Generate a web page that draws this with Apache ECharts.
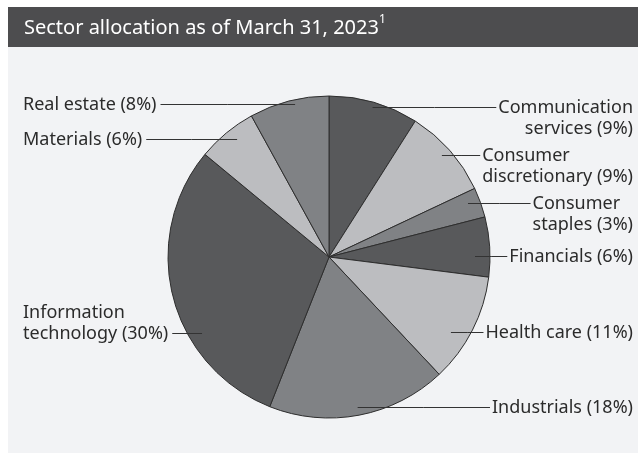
<!DOCTYPE html>
<html>
<head>
<meta charset="utf-8">
<script src="https://cdn.jsdelivr.net/npm/echarts@6/dist/echarts.min.js"></script>
<style>
  html, body { margin: 0; padding: 0; background: #fff; }
  #chart { width: 638px; height: 454px; }
</style>
</head>
<body>
<div id="chart"></div>
<script>
// sectors clockwise from 12 o'clock
var sectors = ['Communication\nservices', 'Consumer\ndiscretionary', 'Consumer\nstaples', 'Financials',
    'Health care', 'Industrials', 'Information\ntechnology', 'Materials', 'Real estate'];
var weights = [9, 9, 3, 6, 11, 18, 30, 6, 8];
var shades = ['#58595b', '#bcbdc0', '#808285', '#58595b', '#bcbdc0', '#808285', '#58595b', '#bcbdc0', '#808285'];

var cx = 329, cy = 257, R = 161;
var lh = 21;
// where each leader line starts (fraction of radius, angle nudge) and which side the text sits
var spots = [
    {side: 'right', frac: 0.97, turn: 0},
    {side: 'right', frac: 0.945, turn: -0.7, flush: true},
    {side: 'right', frac: 0.926, turn: -1.4, flush: true},
    {side: 'right', frac: 0.907, turn: 3.2},
    {side: 'right', frac: 0.889, turn: 4.6},
    {side: 'right', frac: 0.949, turn: 0},
    {side: 'left', frac: 0.919, turn: -16.5, row: 1},
    {side: 'left', frac: 0.929, turn: 1.7},
    {side: 'left', frac: 0.973, turn: 1.9}
];

var total = weights.reduce(function (a, b) { return a + b; }, 0);
var midAngle = [];
var acc = 0;
weights.forEach(function (w) {
    midAngle.push((acc + w / 2) / total * 360);
    acc += w;
});

var pieData = sectors.map(function (name, i) {
    return { name: name, value: weights[i] };
});

var myChart = echarts.init(document.getElementById('chart'));

var option = {
    backgroundColor: '#ffffff',
    textStyle: { fontFamily: 'Noto Sans' },
    graphic: [
        { type: 'rect', shape: { x: 8, y: 47, width: 630, height: 406 }, style: { fill: '#f2f3f5' }, silent: true },
        { type: 'rect', shape: { x: 8, y: 7, width: 630, height: 40 }, style: { fill: '#4d4d4f' }, silent: true }
    ],
    title: {
        text: 'Sector allocation as of March 31, 2023{sup|1}',
        left: 24,
        top: 14,
        padding: 0,
        textStyle: {
            color: '#ffffff',
            fontFamily: 'Noto Sans',
            fontWeight: 'normal',
            fontSize: 20,
            lineHeight: 28,
            rich: {
                sup: { fontSize: 12, lineHeight: 16, verticalAlign: 'top', color: '#ffffff', fontFamily: 'Noto Sans' }
            }
        }
    },
    series: [
        {
            // the slices
            type: 'pie',
            z: 2,
            center: [cx, cy],
            radius: R,
            startAngle: 90,
            clockwise: true,
            animation: false,
            silent: true,
            color: shades,
            itemStyle: { borderColor: '#2e2e2e', borderWidth: 1 },
            label: { show: false },
            labelLine: { show: false },
            data: pieData
        },
        {
            // see-through copy that carries the labels and leader lines on top
            type: 'pie',
            z: 5,
            center: [cx, cy],
            radius: R,
            startAngle: 90,
            clockwise: true,
            avoidLabelOverlap: false,
            animation: false,
            silent: true,
            itemStyle: { color: 'rgba(0,0,0,0)', borderWidth: 0 },
            label: {
                show: true,
                position: 'outside',
                formatter: '{b} ({c}%)',
                color: '#2b2b2b',
                fontFamily: 'Noto Sans',
                fontSize: 18,
                lineHeight: lh
            },
            labelLine: {
                show: true,
                showAbove: true,
                smooth: false,
                lineStyle: { color: '#333333', width: 1 }
            },
            labelLayout: function (p) {
                var i = p.dataIndex, s = spots[i];
                var a = (midAngle[i] + s.turn) * Math.PI / 180;
                var ax = cx + R * s.frac * Math.sin(a);
                var ay = Math.round(cy - R * s.frac * Math.cos(a)) + 0.5;
                var w = p.labelRect.width;
                var top = ay - lh / 2 - (s.row || 0) * lh;
                var end;
                if (s.side === 'left') {
                    end = 23 + w + 4;
                    return {
                        x: 23, y: top, align: 'left', verticalAlign: 'top',
                        labelLinePoints: [[ax, ay], [(ax + end) / 2, ay], [end, ay]]
                    };
                }
                end = 633 - w - 2;
                return {
                    x: s.flush ? 633 - w : 633, y: top,
                    align: s.flush ? 'left' : 'right', verticalAlign: 'top',
                    labelLinePoints: [[ax, ay], [(ax + end) / 2, ay], [end, ay]]
                };
            },
            data: pieData
        }
    ]
};

myChart.setOption(option);
</script>
</body>
</html>
